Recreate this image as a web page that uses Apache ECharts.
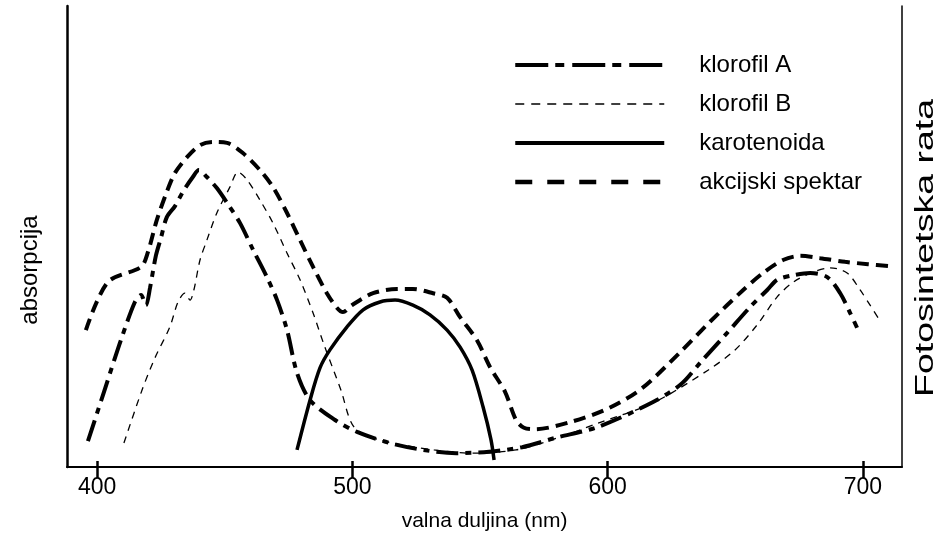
<!DOCTYPE html>
<html>
<head>
<meta charset="utf-8">
<script src="https://cdn.jsdelivr.net/npm/echarts@6/dist/echarts.min.js"></script>
<style>
html, body { margin: 0; padding: 0; background: #fff; }
#chart { width: 948px; height: 539px; }
</style>
</head>
<body>
<div id="chart"></div>
<script>
// valna duljina (nm) -> relativna vrijednost (0-100)
const xTicks = [400, 500, 600, 700]

const klorofilA = [
  [396.4, 5.6], [402.7, 16.3], [409.3, 27.5], [414.8, 35.8], [417.2, 37.3], [419.1, 35.1],
  [420.7, 38.8], [423.0, 45.8], [425.0, 49.7], [427.3, 54.2], [430.5, 56.6], [433.6, 59.7],
  [437.5, 62.9], [439.9, 64.4], [443.0, 62.9], [446.9, 60.5], [450.9, 57.3], [456.0, 52.9],
  [461.1, 47.1], [466.5, 41.2], [470.5, 36.2], [474.4, 29.7], [478.3, 20.4], [483.4, 14.5],
  [493.2, 10.2], [501.8, 7.6], [514.7, 5.2], [527.7, 3.7], [540.6, 3.0], [553.5, 3.3],
  [566.5, 4.3], [579.4, 6.3], [596.2, 8.7], [617.8, 14.1], [628.8, 18.0], [636.2, 22.6],
  [646.8, 29.1], [655.8, 34.7], [662.5, 38.4], [666.4, 40.6], [672.7, 41.6], [679.3, 42.1],
  [686.0, 41.2], [691.1, 37.7], [695.0, 33.4], [697.7, 30.2]
]

const klorofilB = [
  [410.5, 5.2], [417.6, 16.7], [422.6, 23.6], [428.5, 30.4], [431.7, 35.8], [434.4, 37.7],
  [436.4, 36.2], [437.9, 38.4], [440.3, 44.9], [443.0, 49.2], [446.9, 55.1], [452.0, 60.7],
  [455.2, 64.0], [458.7, 62.3], [463.8, 57.9], [468.9, 52.9], [474.4, 46.4], [479.5, 40.6],
  [484.6, 33.4], [488.9, 26.5], [495.5, 16.7], [500.6, 8.7], [510.4, 5.9], [532.0, 3.7],
  [546.9, 3.0], [564.1, 3.7], [581.4, 6.5], [596.2, 9.5], [617.8, 13.9], [639.3, 21.0],
  [649.9, 25.4], [658.5, 30.8], [666.4, 36.9], [672.7, 40.1], [680.5, 42.3], [687.1, 43.2],
  [693.8, 42.1], [698.9, 38.4], [702.8, 35.1], [706.0, 32.3]
]

const karotenoida = [
  [478.3, 3.7], [483.4, 14.5], [487.3, 21.5], [491.2, 25.4], [497.9, 30.4], [504.2, 34.1],
  [510.8, 35.8], [516.7, 36.2], [523.7, 35.1], [530.4, 33.0], [537.1, 29.7], [542.2, 26.0],
  [546.9, 21.0], [551.2, 13.0], [554.3, 5.9], [555.5, 1.5]
]

const akcijskiSpektar = [
  [395.6, 29.7], [404.2, 40.1], [417.2, 43.4], [419.9, 46.6], [423.4, 53.6], [427.3, 59.7],
  [430.5, 63.8], [435.2, 67.2], [440.3, 69.8], [445.4, 70.5], [450.9, 70.3], [457.1, 68.1],
  [463.8, 64.4], [468.9, 60.7], [474.4, 55.1], [479.5, 49.2], [484.6, 43.4], [490.0, 37.7],
  [494.0, 34.5], [496.3, 33.6], [499.8, 35.1], [508.1, 37.7], [517.5, 38.6], [523.7, 38.6],
  [531.6, 37.7], [537.1, 36.7], [542.2, 32.5], [548.8, 27.5], [553.9, 21.7], [559.8, 16.3],
  [564.1, 10.2], [567.2, 8.5], [571.6, 8.2], [585.7, 9.8], [600.6, 12.8], [613.5, 17.1],
  [628.4, 24.9], [640.1, 31.5], [653.1, 38.4], [660.9, 42.1], [668.7, 44.9], [675.4, 45.8],
  [683.2, 45.3], [693.0, 44.5], [702.0, 44.0], [709.9, 43.6]
]

const font = '"Liberation Sans", Arial, Helvetica, sans-serif'

const myChart = echarts.init(document.getElementById('chart'))

const option = {
  animation: false,
  grid: { left: 67, right: 46, top: 6, bottom: 72 },
  legend: {
    orient: 'vertical',
    left: 508,
    top: 48,
    itemWidth: 149,
    itemHeight: 20,
    itemGap: 15,
    selectedMode: false,
    itemStyle: { opacity: 0 },
    textStyle: { fontSize: 24, color: '#000', fontFamily: font, padding: [0, 0, 0, 30] },
    data: [
      { name: 'klorofil A', lineStyle: { type: [33, 7, 9, 8], width: 4 } },
      { name: 'klorofil B', lineStyle: { type: [9, 7], width: 1.5 } },
      { name: 'karotenoida', lineStyle: { type: 'solid', width: 4 } },
      { name: 'akcijski spektar', lineStyle: { type: [17, 15], width: 4.5 } }
    ]
  },
  graphic: [
    {
      type: 'text', x: 30, y: 270, rotation: Math.PI / 2,
      style: { text: 'absorpcija', font: '24px ' + font, fill: '#000', textAlign: 'center', textVerticalAlign: 'middle' }
    },
    {
      // tekst je u originalu razvucen po duljini
      type: 'text', x: 926, y: 248, rotation: Math.PI / 2, scaleX: 1.5,
      style: { text: 'Fotosintetska rata', font: '25px ' + font, fill: '#000', textAlign: 'center', textVerticalAlign: 'middle' }
    }
  ],
  xAxis: [{
    type: 'value',
    min: 388.2,
    max: 715.3,
    position: 'bottom',
    axisLine: { lineStyle: { color: '#000', width: 2 } },
    axisTick: { customValues: xTicks, length: 11, lineStyle: { color: '#000', width: 2.5 } },
    axisLabel: { customValues: xTicks, margin: 9, color: '#000', fontSize: 23, fontFamily: font },
    splitLine: { show: false },
    name: 'valna duljina (nm)',
    nameLocation: 'middle',
    nameGap: 44,
    nameTextStyle: { color: '#000', fontSize: 21, fontFamily: font }
  }, {
    // kratki dio crtica iznad osi
    type: 'value',
    min: 388.2,
    max: 715.3,
    position: 'bottom',
    axisLine: { show: false },
    axisTick: { customValues: xTicks, inside: true, length: 6, lineStyle: { color: '#000', width: 2.5 } },
    axisLabel: { show: false },
    splitLine: { show: false }
  }],
  yAxis: [{
    type: 'value',
    min: 0,
    max: 100,
    axisLine: { show: true, lineStyle: { color: '#000', width: 2.5 } },
    axisTick: { show: false },
    axisLabel: { show: false },
    splitLine: { show: false }
  }, {
    type: 'value',
    position: 'right',
    min: 0,
    max: 100,
    axisLine: { show: true, lineStyle: { color: '#000', width: 1.5 } },
    axisTick: { show: false },
    axisLabel: { show: false },
    splitLine: { show: false }
  }],
  series: [{
    name: 'klorofil A',
    type: 'line',
    data: klorofilA,
    smooth: 0.3,
    symbol: 'none',
    itemStyle: { color: '#000' },
    lineStyle: { color: '#000', width: 4, type: [22, 7, 6, 7] }
  }, {
    name: 'klorofil B',
    type: 'line',
    data: klorofilB,
    smooth: 0.3,
    symbol: 'none',
    itemStyle: { color: '#000' },
    lineStyle: { color: '#000', width: 1.3, type: [7, 6] }
  }, {
    name: 'karotenoida',
    type: 'line',
    data: karotenoida,
    smooth: 0.3,
    symbol: 'none',
    itemStyle: { color: '#000' },
    lineStyle: { color: '#000', width: 3.5, type: 'solid' }
  }, {
    name: 'akcijski spektar',
    type: 'line',
    data: akcijskiSpektar,
    smooth: 0.3,
    symbol: 'none',
    itemStyle: { color: '#000' },
    lineStyle: { color: '#000', width: 4, type: [12, 7] }
  }]
}

myChart.setOption(option)
</script>
</body>
</html>
